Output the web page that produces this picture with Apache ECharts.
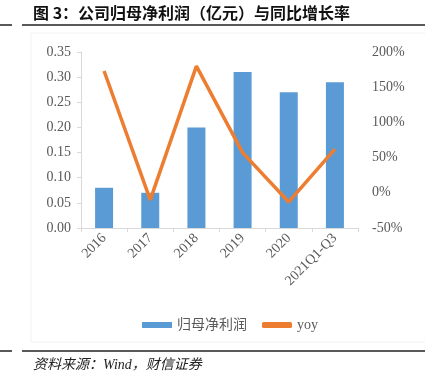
<!DOCTYPE html>
<html>
<head>
<meta charset="utf-8">
<script src="https://cdn.jsdelivr.net/npm/echarts@6/dist/echarts.min.js"></script>
<style>
  html, body { margin: 0; padding: 0; background: #fff; }
  #chart { width: 425px; height: 380px; }
</style>
</head>
<body>
<div id="chart"></div>
<script>
const categories = ['2016', '2017', '2018', '2019', '2020', '2021Q1-Q3'];
const profit = [0.08, 0.07, 0.20, 0.31, 0.27, 0.29];
const yoy = [173, -10, 180, 57, -13, 62];
const leftTicks = { min: 0, max: 0.35, interval: 0.05 };
const rightTicks = { min: -50, max: 200, interval: 50 };

const chart = echarts.init(document.getElementById('chart'));

const serif = "'Liberation Serif', 'Noto Sans CJK SC', serif";
const gray = '#595959';
const axisGray = '#d9d9d9';

const option = {
  animation: false,
  grid: { left: 81, right: 67, top: 52, bottom: 152 },
  legend: {
    left: 137,
    top: 313,
    itemWidth: 30,
    itemHeight: 6,
    itemGap: 15,
    textStyle: { color: gray, fontSize: 14, fontFamily: serif },
    data: [
      { name: '归母净利润', icon: 'rect' },
      { name: 'yoy', icon: 'roundRect' }
    ]
  },
  xAxis: {
    type: 'category',
    data: categories,
    axisLine: { lineStyle: { color: axisGray } },
    axisTick: { show: true, length: 4, lineStyle: { color: axisGray } },
    axisLabel: { rotate: 45, margin: 8, color: gray, fontSize: 14, fontFamily: serif, interval: 0 }
  },
  yAxis: [
    {
      type: 'value',
      min: leftTicks.min,
      max: leftTicks.max,
      interval: leftTicks.interval,
      axisLine: { show: true, lineStyle: { color: axisGray } },
      axisTick: { show: true, length: 4, lineStyle: { color: axisGray } },
      splitLine: { show: false },
      axisLabel: { color: gray, fontSize: 14, fontFamily: serif, margin: 10,
        formatter: v => v.toFixed(2) }
    },
    {
      type: 'value',
      min: rightTicks.min,
      max: rightTicks.max,
      interval: rightTicks.interval,
      axisLine: { show: false },
      axisTick: { show: false },
      splitLine: { show: false },
      axisLabel: { color: gray, fontSize: 14, fontFamily: serif, margin: 14,
        formatter: '{value}%' }
    }
  ],
  series: [
    {
      name: '归母净利润',
      type: 'bar',
      data: profit,
      barWidth: 18,
      itemStyle: { color: '#5B9BD5' }
    },
    {
      name: 'yoy',
      type: 'line',
      yAxisIndex: 1,
      data: yoy,
      symbol: 'none',
      lineStyle: { color: '#ED7D31', width: 3.5 },
      itemStyle: { color: '#ED7D31' }
    }
  ],
  graphic: [
    { type: 'rect', shape: { x: 31, y: 33, width: 400, height: 309 },
      style: { fill: 'none', stroke: '#f2f2f2', lineWidth: 1 }, silent: true },
    { type: 'line', shape: { x1: 0, y1: 25, x2: 12, y2: 25 },
      style: { stroke: '#222', lineWidth: 1.5 } },
    { type: 'line', shape: { x1: 22, y1: 25, x2: 425, y2: 25 },
      style: { stroke: '#222', lineWidth: 1.5 } },
    { type: 'line', shape: { x1: 0, y1: 351, x2: 12, y2: 351 },
      style: { stroke: '#222', lineWidth: 1.5 } },
    { type: 'line', shape: { x1: 22, y1: 351, x2: 425, y2: 351 },
      style: { stroke: '#222', lineWidth: 1.5 } },
    { type: 'text', left: 33, top: 5,
      style: { text: '图 3：公司归母净利润（亿元）与同比增长率', fill: '#111',
        font: "bold 16px 'Noto Sans CJK SC', sans-serif" } },
    { type: 'text', left: 33, top: 358,
      style: { text: '资料来源：Wind，财信证券', fill: '#222',
        font: "italic 14px 'Liberation Serif', 'Noto Sans CJK SC', serif" } }
  ]
};

chart.setOption(option);
</script>
</body>
</html>
